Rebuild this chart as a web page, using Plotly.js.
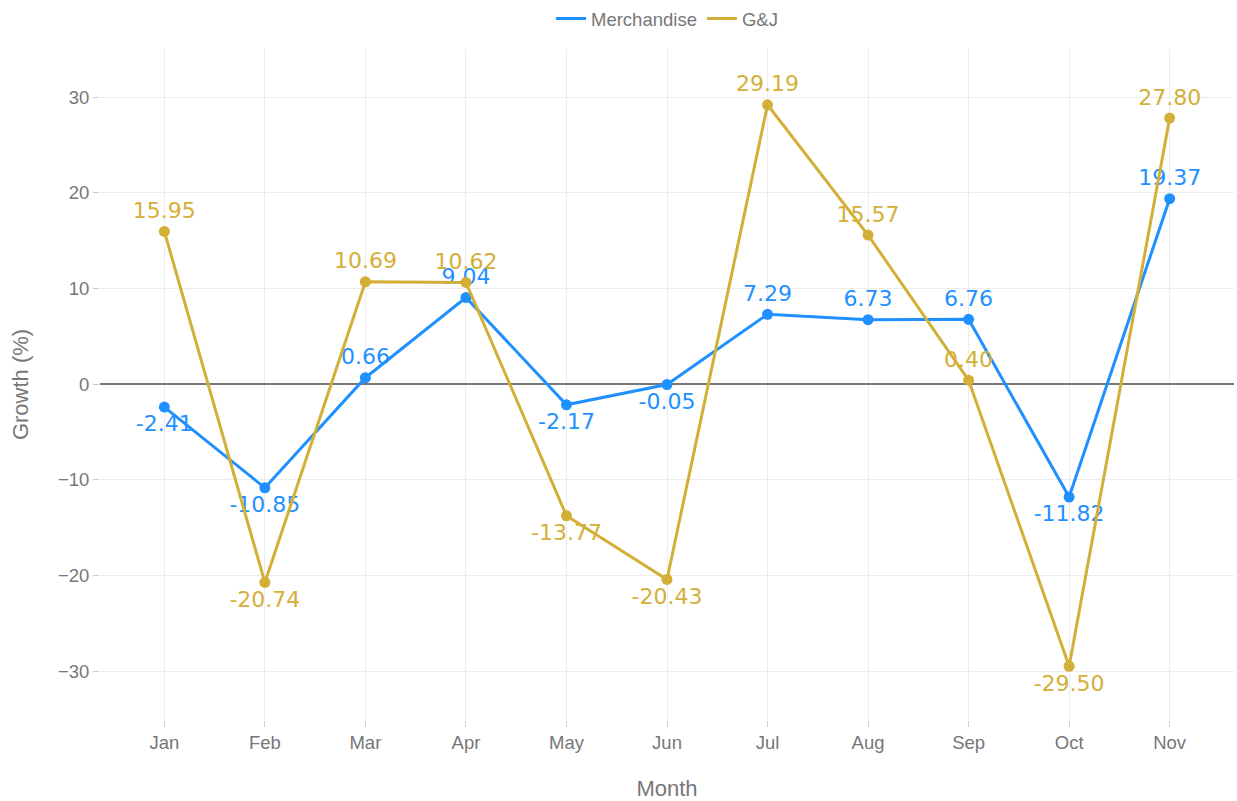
<!DOCTYPE html>
<html>
<head>
<meta charset="utf-8">
<script src="https://cdn.plot.ly/plotly-3.0.1.min.js"></script>
<style>html,body{margin:0;padding:0;background:#fff;}#chart{width:1237px;height:801px;}</style>
</head>
<body>
<div id="chart"></div>
<script>
const months = ["Jan","Feb","Mar","Apr","May","Jun","Jul","Aug","Sep","Oct","Nov"];
const merchandise = [-2.41,-10.85,0.66,9.04,-2.17,-0.05,7.29,6.73,6.76,-11.82,19.37];
const gj = [15.95,-20.74,10.69,10.62,-13.77,-20.43,29.19,15.57,0.40,-29.50,27.80];
const seriesNames = ["Merchandise","G&J"];
const colors = ["#1E90FF","#D4AF37"];

function mkTrace(vals, name, color){
  return {
    x: months, y: vals, name: name, type: 'scatter', mode: 'lines+markers+text',
    legendgroup: name, showlegend: false,
    line: {color: color, width: 3},
    marker: {color: color, size: 11},
    text: vals.map(v => v.toFixed(2)),
    textposition: vals.map(v => v >= 0 ? 'top center' : 'bottom center'),
    textfont: {family: 'DejaVu Sans', size: 22, color: color},
    cliponaxis: false,
    hoverinfo: 'x+y'
  };
}
function legendTrace(name, color){
  return {x: [null], y: [null], name: name, type: 'scatter', mode: 'lines',
    legendgroup: name, line: {color: color, width: 3}, hoverinfo: 'skip'};
}

const data = [
  mkTrace(merchandise, seriesNames[0], colors[0]),
  mkTrace(gj, seriesNames[1], colors[1]),
  legendTrace(seriesNames[0], colors[0]),
  legendTrace(seriesNames[1], colors[1])
];

const layout = {
  width: 1237, height: 801,
  margin: {l: 100, r: 3, t: 49, b: 81, autoexpand: false},
  paper_bgcolor: '#fff', plot_bgcolor: '#fff',
  font: {family: 'Liberation Sans, Arial, sans-serif', color: '#777', size: 18.5},
  showlegend: true,
  legend: {orientation: 'h', x: 0.5, xanchor: 'center', yref: 'container', y: 1.0, yanchor: 'top', font: {size: 18.5, color: '#777'}},
  xaxis: {
    type: 'category', range: [-0.64, 10.64],
    title: {text: 'Month', font: {size: 22, color: '#777'}, standoff: 29},
    showgrid: true, gridcolor: '#ececec', zeroline: false,
    ticks: 'outside', ticklen: 6, tickcolor: '#ccc', showline: false,
    tickfont: {size: 18.5, color: '#777'}
  },
  yaxis: {
    range: [-35.12, 35.02],
    title: {text: 'Growth (%)', font: {size: 22, color: '#777'}, standoff: 23},
    tickvals: [-30,-20,-10,0,10,20,30],
    showgrid: true, gridcolor: '#ececec',
    zeroline: true, zerolinecolor: '#777', zerolinewidth: 1.5,
    ticks: 'outside', ticklen: 6, tickcolor: '#ccc', showline: false,
    tickfont: {size: 18.5, color: '#777'}
  }
};

Plotly.newPlot('chart', data, layout, {displayModeBar: false, staticPlot: true});
</script>
</body>
</html>
